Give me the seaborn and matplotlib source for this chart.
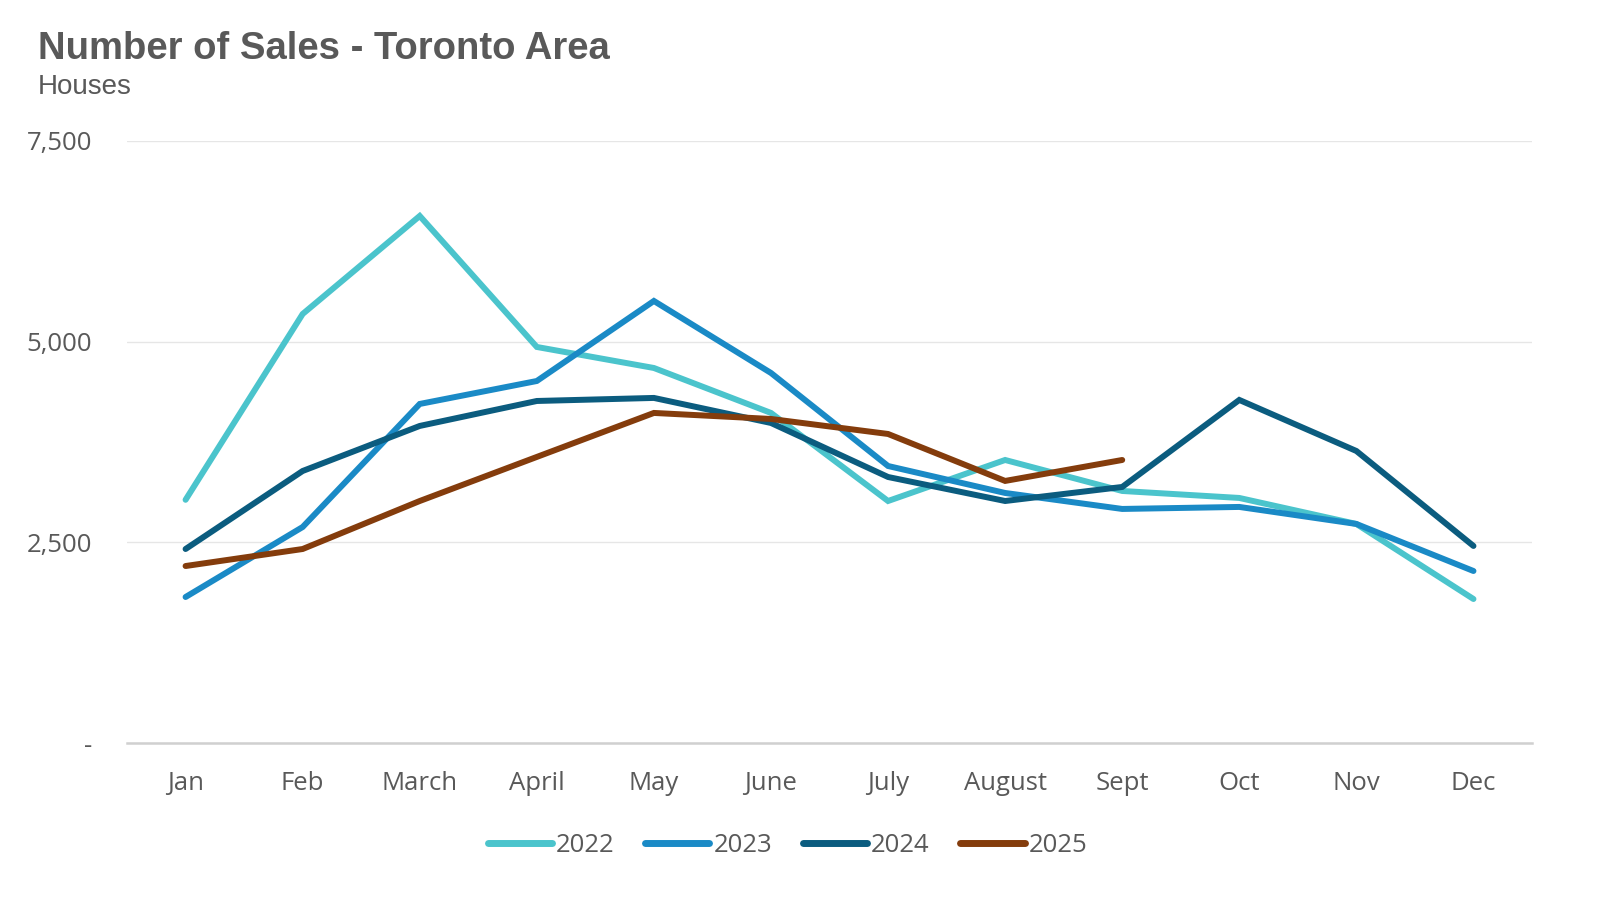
import matplotlib
matplotlib.use("Agg")
from matplotlib import pyplot as plt
import numpy as np
import pandas as pd
import seaborn as sns

months = ["Jan", "Feb", "March", "April", "May", "June", "July", "August", "Sept", "Oct", "Nov", "Dec"]
sales_2022 = [3030, 5345, 6566, 4934, 4672, 4112, 3015, 3526, 3140, 3053, 2729, 1794]
sales_2023 = [1819, 2691, 4224, 4510, 5507, 4610, 3451, 3115, 2916, 2941, 2729, 2143]
sales_2024 = [2417, 3389, 3950, 4261, 4299, 3987, 3314, 3015, 3190, 4274, 3638, 2455]
sales_2025 = [2205, 2417, 3015, 3564, 4112, 4037, 3850, 3265, 3526]
years = ["2022", "2023", "2024", "2025"]
colors = ["#4BC4CC", "#1A8AC6", "#0B5C7F", "#843C0C"]

rows = []
for yr, vals in zip(years, [sales_2022, sales_2023, sales_2024, sales_2025]):
    for i, v in enumerate(vals):
        rows.append({"month": i, "sales": v, "year": yr})
df = pd.DataFrame(rows)

sns.set_theme(style="white")
plt.rcParams['font.family'] = ['Open Sans', 'DejaVu Sans']
grey = "#595959"

fig = plt.figure(figsize=(16, 9.09), dpi=100)
ax = fig.add_axes([0.0794, 0.1826, 0.8781, 0.6623])

sns.lineplot(data=df, x="month", y="sales", hue="year", palette=colors,
             linewidth=4.3, ax=ax, legend=True)
for ln in ax.lines:
    ln.set_solid_capstyle("round")
    ln.set_solid_joinstyle("miter")

ax.set_xlim(-0.5, 11.5)
ax.set_ylim(0, 7500)
ax.set_xticks(range(12))
ax.set_xticklabels(months)
ax.set_yticks([0, 2500, 5000, 7500])
ax.set_yticklabels(["-", "2,500", "5,000", "7,500"])
ax.tick_params(axis="both", length=0, labelsize=18.5, colors=grey)
ax.tick_params(axis="x", pad=20)
ax.tick_params(axis="y", pad=25)
ax.grid(axis="y", color="#E6E6E6", linewidth=1.0)
ax.set_axisbelow(True)
for s in ["top", "right", "left"]:
    ax.spines[s].set_visible(False)
ax.spines["bottom"].set_color("#D0D0D0")
ax.spines["bottom"].set_linewidth(1.8)
ax.set_xlabel("")
ax.set_ylabel("")

handles, labels = ax.get_legend_handles_labels()
leg = ax.legend(handles, labels, loc="center", bbox_to_anchor=(0.47, -0.17),
                ncol=4, frameon=False, fontsize=18.5, handlelength=2.5,
                handletextpad=0.15, columnspacing=1.2)
for t in leg.get_texts():
    t.set_color(grey)
for h in leg.get_lines():
    h.set_linewidth(5)
    h.set_solid_capstyle("round")

fig.text(0.0235, 0.935, "Number of Sales - Toronto Area", fontsize=27.5, fontweight="bold",
         color=grey, family=["Liberation Sans", "DejaVu Sans"], va="baseline")
fig.text(0.0235, 0.897, "Houses", fontsize=20, color=grey,
         family=["Liberation Sans", "DejaVu Sans"], va="baseline")

fig.savefig("out.png", dpi=100)
